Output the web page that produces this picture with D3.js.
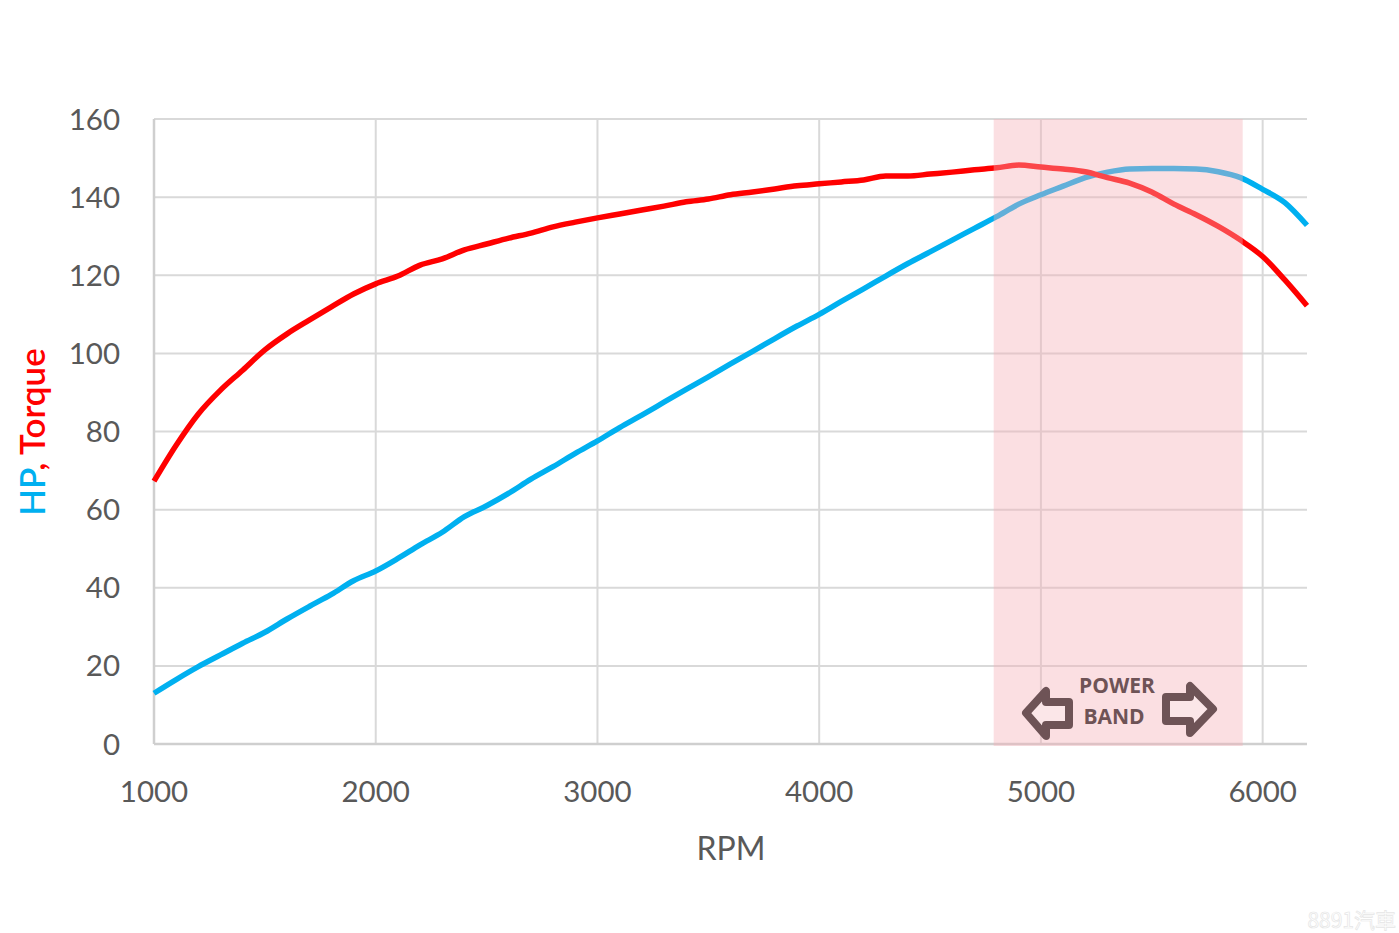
<!DOCTYPE html>
<html><head><meta charset="utf-8">
<script src="https://cdn.jsdelivr.net/npm/d3@7"></script>
<style>body{margin:0;background:#fff}svg{display:block}</style>
</head><body><svg id="c" width="1399" height="933"></svg>
<script>
const rpm = d3.range(1000, 6201, 100);
const hp = [13,16.5,19.8,22.8,25.8,28.6,32,35.2,38.3,41.8,44.3,47.5,51,54.2,58.2,61,64.2,67.8,71,74.4,77.6,81,84.2,87.5,90.8,94,97.3,100.5,103.8,107,110,113.3,116.5,119.8,123,126,129,132,135,138.2,140.6,142.8,145,146.4,147.2,147.3,147.3,147.2,146.5,145,142,138.6,132.8];
const torque = [67.3,76.5,84.5,90.6,95.7,100.9,105,108.5,111.9,115.2,117.8,119.8,122.6,124.2,126.5,128,129.5,130.8,132.4,133.6,134.7,135.7,136.7,137.7,138.8,139.5,140.6,141.3,142.1,142.9,143.4,143.9,144.4,145.4,145.4,145.9,146.4,147,147.5,148.2,147.7,147.2,146.5,145,143.6,141.3,138.2,135.5,132.5,129,124.8,118.8,112.2];
const xTicks = [1000,2000,3000,4000,5000,6000];
const yTicks = [0,20,40,60,80,100,120,140,160];
const band = [4787, 5910];
const bandLabel = ["POWER","BAND"];

const svg = d3.select("#c");
const x = d3.scaleLinear().domain([1000,6200]).range([154,1307]);
const y = d3.scaleLinear().domain([0,160]).range([744,119]);
const font = "Lato, 'Open Sans', sans-serif";
const grid = "#d9d9d9";

svg.append("g").selectAll("line").data(yTicks).join("line")
  .attr("x1",x(1000)).attr("x2",x(6200)).attr("y1",d=>y(d)).attr("y2",d=>y(d))
  .attr("stroke",grid).attr("stroke-width",2);
svg.append("g").selectAll("line").data(xTicks).join("line")
  .attr("x1",d=>x(d)).attr("x2",d=>x(d)).attr("y1",y(0)).attr("y2",y(160))
  .attr("stroke",grid).attr("stroke-width",2);
svg.append("line").attr("x1",x(1000)).attr("x2",x(1000)).attr("y1",y(0)).attr("y2",y(160)).attr("stroke","#cfcfcf").attr("stroke-width",2.5);
svg.append("line").attr("x1",x(1000)).attr("x2",x(6200)).attr("y1",y(0)).attr("y2",y(0)).attr("stroke","#cfcfcf").attr("stroke-width",2.5);

svg.append("g").selectAll("text").data(yTicks).join("text")
  .attr("x",120).attr("y",d=>y(d)).attr("dy","0.36em").attr("text-anchor","end")
  .attr("font-family",font).attr("font-size",29.5).attr("fill","#595959").text(d=>d);
svg.append("g").selectAll("text").data(xTicks).join("text")
  .attr("x",d=>x(d)).attr("y",802).attr("text-anchor","middle")
  .attr("font-family",font).attr("font-size",29.5).attr("fill","#595959").text(d=>d);

svg.append("text").attr("x",731).attr("y",860).attr("text-anchor","middle")
  .attr("font-family",font).attr("font-size",32).attr("fill","#595959").text("RPM");
const yt = svg.append("text").attr("transform","translate(45,432) rotate(-90)")
  .attr("text-anchor","middle").attr("font-family",font).attr("font-size",35).attr("font-weight",600);
yt.append("tspan").attr("fill","#00b0f0").text("HP");
yt.append("tspan").attr("fill","#ff0000").text(", Torque");

const line = d3.line().curve(d3.curveMonotoneX).x((d,i)=>x(rpm[i])).y(d=>y(d));
svg.append("path").attr("d",line(hp)).attr("fill","none").attr("stroke","#00b0f0").attr("stroke-width",5.5).attr("stroke-linejoin","round");
svg.append("path").attr("d",line(torque)).attr("fill","none").attr("stroke","#ff0000").attr("stroke-width",5.5).attr("stroke-linejoin","round");

svg.append("rect").attr("x",x(band[0])).attr("width",x(band[1])-x(band[0]))
  .attr("y",y(160)).attr("height",y(0)-y(160)+2)
  .attr("fill","rgb(245,175,182)").attr("opacity",0.4);

const brown = "#6e5356";
svg.append("g").selectAll("text").data(bandLabel).join("text")
  .attr("x",(d,i)=>i?1114:1117).attr("y",(d,i)=>i?724:693).attr("text-anchor","middle")
  .attr("font-family","'Open Sans', sans-serif").attr("font-weight","bold").attr("font-size",21)
  .attr("fill",brown).text(d=>d);
const la = "M1026,713 L1046,691 L1046,702 L1069,702 L1069,725 L1046,725 L1046,736 Z";
const ra = "M1213,709 L1190,686 L1190,697 L1166,697 L1166,721 L1190,721 L1190,733 Z";
[la,ra].forEach(p=>svg.append("path").attr("d",p).attr("fill","#fbe6e8").attr("stroke",brown)
  .attr("stroke-width",8).attr("stroke-linejoin","round"));

svg.append("text").attr("x",1396).attr("y",928).attr("text-anchor","end")
  .attr("font-family","'Noto Sans CJK TC', sans-serif").attr("font-size",21)
  .attr("fill","#fff").attr("stroke","#e6e6e6").attr("stroke-width",0.7).text("8891汽車");
</script></body></html>
